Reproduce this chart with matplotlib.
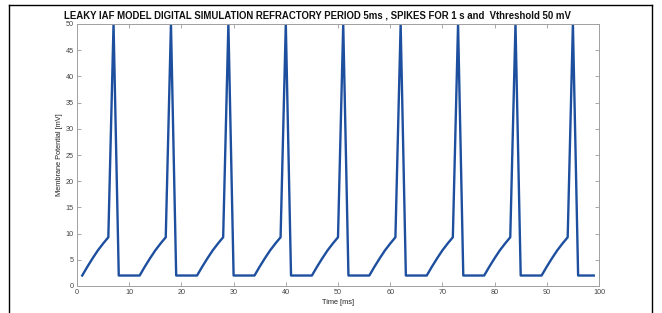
import matplotlib
matplotlib.use("Agg")
import matplotlib.pyplot as plt
from matplotlib.lines import Line2D

plt.rcParams['font.family'] = ['Liberation Sans', 'DejaVu Sans']

# Time samples [ms] and membrane potential [mV]
time_ms = list(range(1, 100))
membrane_mv = [
    2, 3.7, 5.3, 6.8, 8.1, 9.3, 50, 2, 2, 2, 2,
    2, 3.7, 5.3, 6.8, 8.1, 9.3, 50, 2, 2, 2, 2,
    2, 3.7, 5.3, 6.8, 8.1, 9.3, 50, 2, 2, 2, 2,
    2, 3.7, 5.3, 6.8, 8.1, 9.3, 50, 2, 2, 2, 2,
    2, 3.7, 5.3, 6.8, 8.1, 9.3, 50, 2, 2, 2, 2,
    2, 3.7, 5.3, 6.8, 8.1, 9.3, 50, 2, 2, 2, 2,
    2, 3.7, 5.3, 6.8, 8.1, 9.3, 50, 2, 2, 2, 2,
    2, 3.7, 5.3, 6.8, 8.1, 9.3, 50, 2, 2, 2, 2,
    2, 3.7, 5.3, 6.8, 8.1, 9.3, 50, 2, 2, 2, 2,
]
x_ticks = list(range(0, 101, 10))
y_ticks = list(range(0, 51, 5))

title = "LEAKY IAF MODEL DIGITAL SIMULATION REFRACTORY PERIOD 5ms , SPIKES FOR 1 s and  Vthreshold 50 mV"

fig = plt.figure(figsize=(6.62, 3.13), dpi=100)
ax = fig.add_axes([77/662, 1-286/313, (599-77)/662, (286-24)/313])

ax.plot(time_ms, membrane_mv, color="#1d4f9e", linewidth=1.7)
ax.set_xlim(0, 100)
ax.set_ylim(0, 50)
ax.set_xticks(x_ticks)
ax.set_yticks(y_ticks)
ax.tick_params(direction="in", length=3, width=0.6, labelsize=5.2, colors="#999999",
               labelcolor="#444444", top=True, right=True, pad=2.5)
for s in ax.spines.values():
    s.set_color("#a0a0a0")
    s.set_linewidth(0.7)

fig.text(317/662, 1-15/313, title, fontsize=6.95, fontweight="bold", color="#111111",
         ha="center", va="center")
ax.set_xlabel("Time [ms]", fontsize=5.3, color="#222222", labelpad=2)
ax.set_ylabel("Membrane Potential [mV]", fontsize=5.3, color="#222222", labelpad=2)

# outer page frame (top, left, right)
fig.add_artist(Line2D([9/662, 9/662], [0, 1-5/313], transform=fig.transFigure, color="black", lw=1.0))
fig.add_artist(Line2D([652/662, 652/662], [0, 1-5/313], transform=fig.transFigure, color="black", lw=1.0))
fig.add_artist(Line2D([9/662, 652/662], [1-5/313, 1-5/313], transform=fig.transFigure, color="black", lw=1.0))

fig.savefig("out.png", dpi=100)
